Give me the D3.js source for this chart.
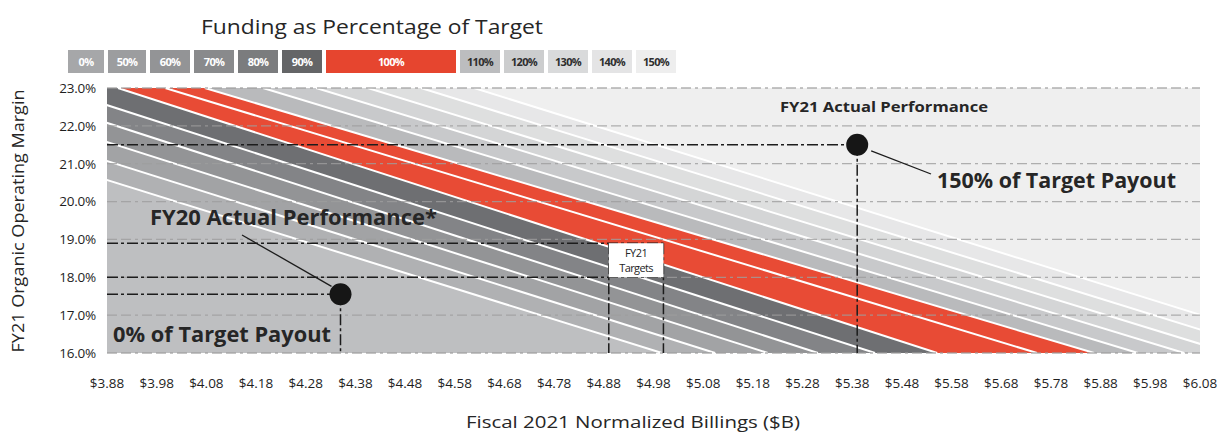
<!DOCTYPE html>
<html>
<head>
<meta charset="utf-8">
<script src="https://cdn.jsdelivr.net/npm/d3@7"></script>
<style>
  body { margin: 0; background: #fff; }
  svg { display: block; }
  text { font-family: "Open Sans", "DejaVu Sans", sans-serif; fill: #262626; }
</style>
</head>
<body>
<svg id="chart" width="1221" height="432"></svg>
<script>
// ---- data -------------------------------------------------------------
const payoutLabels = ["0%", "50%", "60%", "70%", "80%", "90%", "100%", "110%", "120%", "130%", "140%", "150%"];
// Billings ($B) at which each payout boundary meets the 23.0% and 16.0% margin lines
const boundaryAt23 = [3.286, 3.415, 3.540, 3.663, 3.773, 3.902, 3.997, 4.077, 4.194, 4.301, 4.405, 4.512, 4.619];
const boundaryAt16 = [4.997, 5.104, 5.210, 5.311, 5.426, 5.551, 5.752, 5.867, 5.955, 6.048, 6.140, 6.233, 6.326];
// payout level of each region lying between consecutive boundaries
const regionPayout = ["0%", "50%", "60%", "70%", "80%", "90%", "100%", "100%", "110%", "120%", "130%", "140%", "150%", "above"];
const marginTicks = [16, 17, 18, 19, 20, 21, 22, 23];
const billingsTicks = [3.88, 3.98, 4.08, 4.18, 4.28, 4.38, 4.48, 4.58, 4.68, 4.78, 4.88, 4.98,
                       5.08, 5.18, 5.28, 5.38, 5.48, 5.58, 5.68, 5.78, 5.88, 5.98, 6.08];
const fy20Actual = { billings: 4.35, margin: 17.55 };
const fy21Actual = { billings: 5.39, margin: 21.5 };
const fy21TargetBillings = [4.89, 5.00];
const fy21TargetMargin = [18.0, 18.9];

// ---- styles -----------------------------------------------------------
const regionFill = {
  "0%": "#bebfc1", "50%": "#b0b1b3", "60%": "#a2a3a5", "70%": "#939496", "80%": "#838487",
  "90%": "#6e6f72", "100%": "#e84b35", "110%": "#b9babc", "120%": "#c8c9cb", "130%": "#d4d5d6",
  "140%": "#dedfdf", "150%": "#e7e7e8", "above": "#efefef"
};
const legendFill = {
  "0%": "#a6a7a9", "50%": "#9c9d9f", "60%": "#939496", "70%": "#898a8c", "80%": "#7b7c7e",
  "90%": "#646567", "100%": "#e6452f", "110%": "#bcbdbf", "120%": "#cccdce", "130%": "#d9dadb",
  "140%": "#e4e4e5", "150%": "#eeeeee"
};
const legendWidth = { "0%": 36, "50%": 38, "100%": 130 };

const svg = d3.select("#chart");
const plot = { left: 107, right: 1200, top: 88, bottom: 353 };

const x = d3.scaleLinear().domain([3.88, 6.08]).range([plot.left, plot.right]);
const y = d3.scaleLinear().domain([16, 23]).range([plot.bottom, plot.top]);

svg.append("clipPath").attr("id", "plotClip")
  .append("rect")
  .attr("x", plot.left).attr("y", plot.top)
  .attr("width", plot.right - plot.left).attr("height", plot.bottom - plot.top);

const g = svg.append("g").attr("clip-path", "url(#plotClip)");

// ---- payout regions ---------------------------------------------------
const farLeft = 2.5, farRight = 7.5;
const regions = regionPayout.map((p, i) => {
  const l23 = i === 0 ? farLeft : boundaryAt23[i - 1];
  const l16 = i === 0 ? farLeft : boundaryAt16[i - 1];
  const r23 = i === regionPayout.length - 1 ? farRight : boundaryAt23[i];
  const r16 = i === regionPayout.length - 1 ? farRight : boundaryAt16[i];
  return { payout: p, pts: [[l23, 23], [r23, 23], [r16, 16], [l16, 16]] };
});

g.selectAll("path.region").data(regions).join("path")
  .attr("class", "region")
  .attr("d", d => d3.line().x(p => x(p[0])).y(p => y(p[1]))(d.pts) + "Z")
  .attr("fill", d => regionFill[d.payout]);

// white separators between regions
g.selectAll("line.sep").data(boundaryAt23.map((b, i) => [b, boundaryAt16[i]])).join("line")
  .attr("class", "sep")
  .attr("x1", d => x(d[0])).attr("y1", y(23))
  .attr("x2", d => x(d[1])).attr("y2", y(16))
  .attr("stroke", "#fff").attr("stroke-width", 2);

// ---- gridlines --------------------------------------------------------
svg.append("g").selectAll("line").data(marginTicks).join("line")
  .attr("x1", plot.left).attr("x2", plot.right)
  .attr("y1", d => y(d)).attr("y2", d => y(d))
  .attr("stroke", "#9d9d9d").attr("stroke-opacity", 0.8).attr("stroke-width", 1.3)
  .attr("stroke-dasharray", "10,4,10,4,3,4");

// ---- reference lines --------------------------------------------------
const ref = svg.append("g")
  .attr("stroke", "#1c1c1c").attr("stroke-width", 1.5)
  .attr("stroke-dasharray", "11,3,3,3").attr("fill", "none");

const refLines = [
  [[3.88, fy21Actual.margin], [fy21Actual.billings, fy21Actual.margin]],
  [[fy21Actual.billings, fy21Actual.margin], [fy21Actual.billings, 16]],
  [[3.88, fy20Actual.margin], [fy20Actual.billings, fy20Actual.margin]],
  [[fy20Actual.billings, fy20Actual.margin], [fy20Actual.billings, 16]],
  [[3.88, fy21TargetMargin[1]], [fy21TargetBillings[1], fy21TargetMargin[1]]],
  [[3.88, fy21TargetMargin[0]], [fy21TargetBillings[1], fy21TargetMargin[0]]],
  [[fy21TargetBillings[0], fy21TargetMargin[1]], [fy21TargetBillings[0], 16]],
  [[fy21TargetBillings[1], fy21TargetMargin[1]], [fy21TargetBillings[1], 16]]
];

// targets label box
svg.append("rect")
  .attr("x", x(fy21TargetBillings[0])).attr("y", y(fy21TargetMargin[1]))
  .attr("width", x(fy21TargetBillings[1]) - x(fy21TargetBillings[0]))
  .attr("height", y(fy21TargetMargin[0]) - y(fy21TargetMargin[1]))
  .attr("fill", "#fff");

ref.selectAll("line").data(refLines).join("line")
  .attr("x1", d => x(d[0][0])).attr("y1", d => y(d[0][1]))
  .attr("x2", d => x(d[1][0])).attr("y2", d => y(d[1][1]));

const tcx = (x(fy21TargetBillings[0]) + x(fy21TargetBillings[1])) / 2;
const tTop = y(fy21TargetMargin[1]);
svg.append("text").attr("x", tcx).attr("y", tTop + 14)
  .attr("text-anchor", "middle").attr("font-size", 11).attr("letter-spacing", -0.5).text("FY21");
svg.append("text").attr("x", tcx).attr("y", tTop + 29)
  .attr("text-anchor", "middle").attr("font-size", 11).attr("letter-spacing", -0.6).text("Targets");

// ---- performance points -----------------------------------------------
[fy20Actual, fy21Actual].forEach(p => {
  svg.append("circle").attr("cx", x(p.billings)).attr("cy", y(p.margin)).attr("r", 11).attr("fill", "#161616");
});

// leader lines
svg.append("line").attr("x1", x(fy21Actual.billings) + 14).attr("y1", y(fy21Actual.margin) + 6)
  .attr("x2", 931).attr("y2", 174).attr("stroke", "#1c1c1c").attr("stroke-width", 1.3);
svg.append("line").attr("x1", x(fy20Actual.billings) - 9).attr("y1", y(fy20Actual.margin) - 8)
  .attr("x2", 242).attr("y2", 235).attr("stroke", "#1c1c1c").attr("stroke-width", 1.3);

// ---- annotations ------------------------------------------------------
function label(txt, x0, y0, size, len, weight) {
  return svg.append("text").attr("x", x0).attr("y", y0)
    .attr("font-size", size).attr("font-weight", weight)
    .attr("textLength", len).attr("lengthAdjust", "spacingAndGlyphs")
    .text(txt);
}
label("FY21 Actual Performance", 780, 112, 14, 208, 700);
label("150% of Target Payout", 937, 188, 21, 239, 700);
label("FY20 Actual Performance*", 150, 225, 21, 287, 700);
label("0% of Target Payout", 113, 342, 21, 218, 700);

// ---- axes labels ------------------------------------------------------
svg.append("g").selectAll("text").data(marginTicks).join("text")
  .attr("x", 96).attr("y", d => y(d)).attr("dy", "0.36em")
  .attr("text-anchor", "end").attr("font-size", 13.5).attr("letter-spacing", -0.2)
  .attr("font-weight", 500).style("fill", "#1e1e1e")
  .text(d => d.toFixed(1) + "%");

svg.append("g").selectAll("text").data(billingsTicks).join("text")
  .attr("x", d => x(d)).attr("y", 388)
  .attr("text-anchor", "middle").attr("font-size", 13.5).attr("letter-spacing", 0)
  .attr("font-weight", 500).style("fill", "#1e1e1e")
  .text(d => "$" + d.toFixed(2));

svg.append("text").attr("transform", "translate(24,221) rotate(-90)")
  .attr("text-anchor", "middle").attr("font-size", 16)
  .attr("textLength", 263).attr("lengthAdjust", "spacingAndGlyphs")
  .text("FY21 Organic Operating Margin");

svg.append("text").attr("x", 633).attr("y", 428)
  .attr("text-anchor", "middle").attr("font-size", 16)
  .attr("textLength", 334).attr("lengthAdjust", "spacingAndGlyphs")
  .text("Fiscal 2021 Normalized Billings ($B)");

// ---- legend -----------------------------------------------------------
svg.append("text").attr("x", 372).attr("y", 34).attr("text-anchor", "middle")
  .attr("font-size", 19.5).attr("textLength", 342).attr("lengthAdjust", "spacingAndGlyphs")
  .text("Funding as Percentage of Target");

let lx = 68;
const legendItems = payoutLabels.map(p => {
  const w = legendWidth[p] || 40;
  const item = { p, x0: lx, w };
  lx += w + 4;
  return item;
});
const lg = svg.append("g");
lg.selectAll("rect").data(legendItems).join("rect")
  .attr("x", d => d.x0).attr("y", 50).attr("width", d => d.w).attr("height", 23)
  .attr("fill", d => legendFill[d.p]);
lg.selectAll("text").data(legendItems).join("text")
  .attr("x", d => d.x0 + d.w / 2).attr("y", 65.5).attr("text-anchor", "middle")
  .attr("font-size", 11).attr("font-weight", 700).attr("letter-spacing", -0.7)
  .style("fill", d => parseInt(d.p) <= 100 ? "#ffffff" : "#2e2e2e")
  .text(d => d.p);
</script>
</body>
</html>
